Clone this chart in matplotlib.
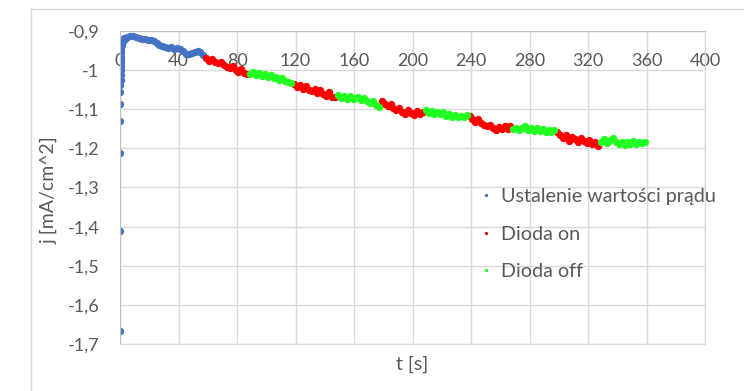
""" Current density vs time, diode on/off cycles """
import numpy as np
import matplotlib.pyplot as plt
from matplotlib.lines import Line2D
from matplotlib.ticker import FuncFormatter

plt.rcParams['font.family'] = ['Lato', 'DejaVu Sans']

#########
# Data  #
#########
# Stabilisation phase (blue)
t_stab = [0, 0.05, 0.1, 0.15, 0.2, 0.25, 0.3, 0.35, 0.4, 0.45, 0.5, 0.6, 0.7,
          0.8, 0.9, 1.0, 1.2, 1.5, 2, 2.5, 3, 4, 5, 7, 9, 11, 13, 15, 17, 19,
          21, 23, 25, 27, 29, 31, 33, 35, 37, 39, 41, 43, 45, 47, 49, 51, 53,
          55, 57]
j_stab = [-1.667, -1.411, -1.211, -1.130, -1.087, -1.057, -1.038, -1.025,
          -1.012, -1.000, -0.990, -0.978, -0.966, -0.957, -0.950, -0.943,
          -0.937, -0.931, -0.926, -0.922, -0.919, -0.917, -0.915, -0.913,
          -0.913, -0.915, -0.917, -0.920, -0.921, -0.924, -0.922, -0.926,
          -0.930, -0.935, -0.939, -0.942, -0.944, -0.942, -0.945, -0.943,
          -0.946, -0.952, -0.958, -0.960, -0.957, -0.954, -0.950, -0.953,
          -0.962]

# Diode on / off segments, sampled every 2 s
seg_start = [59, 89, 119, 149, 179, 209, 239, 269, 299, 329]
seg_state = ['on', 'off', 'on', 'off', 'on', 'off', 'on', 'off', 'on', 'off']
seg_j = [
    [-0.968, -0.976, -0.972, -0.980, -0.983, -0.978, -0.988, -0.992, -0.995,
     -0.989, -1.000, -1.004, -0.998, -1.007, -1.009],
    [-1.011, -1.004, -1.013, -1.008, -1.016, -1.010, -1.018, -1.013, -1.021,
     -1.017, -1.025, -1.021, -1.028, -1.031, -1.034],
    [-1.035, -1.044, -1.037, -1.047, -1.040, -1.050, -1.054, -1.047, -1.058,
     -1.052, -1.062, -1.066, -1.057, -1.068, -1.069],
    [-1.064, -1.071, -1.065, -1.073, -1.067, -1.075, -1.070, -1.068, -1.077,
     -1.072, -1.080, -1.083, -1.079, -1.088, -1.093],
    [-1.079, -1.086, -1.092, -1.087, -1.097, -1.102, -1.096, -1.107, -1.112,
     -1.103, -1.109, -1.114, -1.105, -1.111, -1.106],
    [-1.103, -1.109, -1.105, -1.111, -1.106, -1.113, -1.108, -1.116, -1.112,
     -1.119, -1.114, -1.121, -1.116, -1.120, -1.115],
    [-1.117, -1.125, -1.132, -1.126, -1.136, -1.140, -1.144, -1.139, -1.149,
     -1.152, -1.145, -1.151, -1.144, -1.150, -1.142],
    [-1.151, -1.147, -1.153, -1.148, -1.144, -1.152, -1.147, -1.155, -1.149,
     -1.156, -1.150, -1.158, -1.152, -1.157, -1.153],
    [-1.157, -1.167, -1.174, -1.167, -1.180, -1.170, -1.177, -1.184, -1.174,
     -1.182, -1.187, -1.179, -1.190, -1.183, -1.193],
    [-1.183, -1.177, -1.186, -1.179, -1.173, -1.184, -1.189, -1.183, -1.191,
     -1.184, -1.188, -1.181, -1.189, -1.183, -1.187, -1.184],
]

labels = {'stab': 'Ustalenie wartości prądu', 'on': 'Dioda on', 'off': 'Dioda off'}
colors = {'stab': '#4472C4', 'on': '#FF0000', 'off': '#22FF22'}

########
# Plot #
########
fig = plt.figure(figsize=(7.44, 3.91), dpi=100)
ax = fig.add_axes([120 / 744, 1 - 344 / 391, 585 / 744, 313 / 391])

ms = 5.3
ax.plot(t_stab, j_stab, 'o', ms=ms, mew=0, color=colors['stab'], label=labels['stab'])
on_t, on_j, off_t, off_j = [], [], [], []
for t0, state, js in zip(seg_start, seg_state, seg_j):
    ts = t0 + 2 * np.arange(len(js))
    if state == 'on':
        on_t += list(ts); on_j += js
    else:
        off_t += list(ts); off_j += js
ax.plot(on_t, on_j, 'o', ms=ms, mew=0, color=colors['on'], label=labels['on'])
ax.plot(off_t, off_j, 'o', ms=ms, mew=0, color=colors['off'], label=labels['off'])

ax.set_xlim(0, 400)
ax.set_ylim(-1.7, -0.9)
ax.set_xticks(np.arange(0, 401, 40))
ax.set_yticks(np.arange(-1.7, -0.89, 0.1))

comma = FuncFormatter(lambda v, p: ('%g' % round(v, 2)).replace('.', ','))
ax.xaxis.set_major_formatter(comma)
ax.yaxis.set_major_formatter(comma)

ax.xaxis.set_ticks_position('top')
ax.tick_params(axis='x', length=0, pad=-27, labelsize=13, labelcolor='#595959')
ax.tick_params(axis='y', length=0, pad=15, labelsize=13, labelcolor='#595959')

ax.grid(True, color='#D9D9D9', lw=1)
ax.set_axisbelow(True)
for side in ['bottom', 'right']:
    ax.spines[side].set_color('#D9D9D9')
for side in ['left', 'top']:
    ax.spines[side].set_color('#BFBFBF')

fig.text(49 / 744, 1 - 190 / 391, 'j [mA/cm^2]', rotation=90, ha='center',
         va='center', fontsize=14, color='#595959')
fig.text(412 / 744, 1 - 364 / 391, 't [s]', ha='center', va='center',
         fontsize=14, color='#595959')

ax.legend(loc='upper left', bbox_to_anchor=(470 / 744, 1 - 178 / 391),
          bbox_transform=fig.transFigure, frameon=False, fontsize=14.2,
          labelcolor='#595959', handlelength=0.6, handletextpad=0.45,
          labelspacing=1.05, markerscale=0.45, borderpad=0)

# chart area border
fig.add_artist(Line2D([31 / 744, 31 / 744], [0, 1 - 9 / 391],
                      transform=fig.transFigure, color='#D9D9D9', lw=1))
fig.add_artist(Line2D([31 / 744, 1], [1 - 9 / 391, 1 - 9 / 391],
                      transform=fig.transFigure, color='#D9D9D9', lw=1))

fig.savefig('out.png', dpi=100)
